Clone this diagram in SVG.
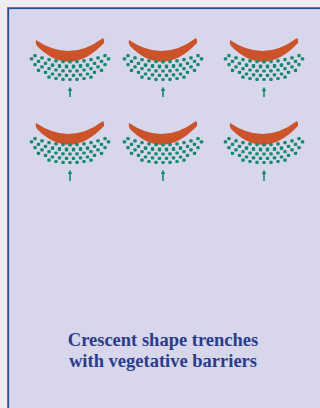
<svg xmlns="http://www.w3.org/2000/svg" xmlns:xlink="http://www.w3.org/1999/xlink" width="320" height="408" viewBox="0 0 320 408">
<style>
.crescent{fill:#cb5229}
.dot{fill:#15896b}
.arrow{stroke:#15896b;stroke-width:1.6;fill:none}
.label{font-family:"Liberation Serif","Times New Roman",serif;font-weight:bold;font-size:18.5px;fill:#2b3c8a;text-anchor:middle}
</style>
<defs>
<marker id="ah" viewBox="0 0 6 6" refX="3" refY="3" markerWidth="3" markerHeight="3" orient="auto">
<path d="M0,0 L6,3 L0,6 Z" fill="#15896b"/>
</marker>
<g id="dots">
<rect class="dot" x="-36.7" y="13.1" width="3.4" height="3.2" rx="1"/>
<rect class="dot" x="-29.7" y="15.3" width="3.4" height="3.2" rx="1"/>
<rect class="dot" x="-22.7" y="17" width="3.4" height="3.2" rx="1"/>
<rect class="dot" x="-15.7" y="18.2" width="3.4" height="3.2" rx="1"/>
<rect class="dot" x="-8.7" y="19" width="3.4" height="3.2" rx="1"/>
<rect class="dot" x="-1.7" y="19.2" width="3.4" height="3.2" rx="1"/>
<rect class="dot" x="5.3" y="19" width="3.4" height="3.2" rx="1"/>
<rect class="dot" x="12.3" y="18.2" width="3.4" height="3.2" rx="1"/>
<rect class="dot" x="19.3" y="17" width="3.4" height="3.2" rx="1"/>
<rect class="dot" x="26.3" y="15.3" width="3.4" height="3.2" rx="1"/>
<rect class="dot" x="33.3" y="13.1" width="3.4" height="3.2" rx="1"/>

<rect class="dot" x="-40.2" y="16.3" width="3.4" height="3.2" rx="1"/>
<rect class="dot" x="-33.2" y="18.7" width="3.4" height="3.2" rx="1"/>
<rect class="dot" x="-26.2" y="20.7" width="3.4" height="3.2" rx="1"/>
<rect class="dot" x="-19.2" y="22.2" width="3.4" height="3.8" rx="1"/>
<rect class="dot" x="-12.2" y="23.1" width="3.4" height="3.8" rx="1"/>
<rect class="dot" x="-5.2" y="23.6" width="3.4" height="3.8" rx="1"/>
<rect class="dot" x="1.8" y="23.6" width="3.4" height="3.8" rx="1"/>
<rect class="dot" x="8.8" y="23.1" width="3.4" height="3.8" rx="1"/>
<rect class="dot" x="15.8" y="22.2" width="3.4" height="3.8" rx="1"/>
<rect class="dot" x="22.8" y="20.7" width="3.4" height="3.2" rx="1"/>
<rect class="dot" x="29.8" y="18.7" width="3.4" height="3.2" rx="1"/>
<rect class="dot" x="36.8" y="16.3" width="3.4" height="3.2" rx="1"/>

<rect class="dot" x="-36.7" y="22.1" width="3.4" height="3.2" rx="1"/>
<rect class="dot" x="-29.7" y="24.3" width="3.4" height="3.2" rx="1"/>
<rect class="dot" x="-22.7" y="26" width="3.4" height="3.2" rx="1"/>
<rect class="dot" x="-15.7" y="27.4" width="3.4" height="3.2" rx="1"/>
<rect class="dot" x="-8.7" y="28.2" width="3.4" height="3.2" rx="1"/>
<rect class="dot" x="-1.7" y="28.4" width="3.4" height="3.2" rx="1"/>
<rect class="dot" x="5.3" y="28.2" width="3.4" height="3.2" rx="1"/>
<rect class="dot" x="12.3" y="27.4" width="3.4" height="3.2" rx="1"/>
<rect class="dot" x="19.3" y="26" width="3.4" height="3.2" rx="1"/>
<rect class="dot" x="26.3" y="24.3" width="3.4" height="3.2" rx="1"/>
<rect class="dot" x="33.3" y="22.1" width="3.4" height="3.2" rx="1"/>

<rect class="dot" x="-33.2" y="27.7" width="3.4" height="3.2" rx="1"/>
<rect class="dot" x="-26.2" y="29.7" width="3.4" height="3.2" rx="1"/>
<rect class="dot" x="-19.2" y="31.4" width="3.4" height="3.2" rx="1"/>
<rect class="dot" x="-12.2" y="32.3" width="3.4" height="3.2" rx="1"/>
<rect class="dot" x="-5.2" y="32.8" width="3.4" height="3.2" rx="1"/>
<rect class="dot" x="1.8" y="32.8" width="3.4" height="3.2" rx="1"/>
<rect class="dot" x="8.8" y="32.3" width="3.4" height="3.2" rx="1"/>
<rect class="dot" x="15.8" y="31.4" width="3.4" height="3.2" rx="1"/>
<rect class="dot" x="22.8" y="29.7" width="3.4" height="3.2" rx="1"/>
<rect class="dot" x="29.8" y="27.7" width="3.4" height="3.2" rx="1"/>

<rect class="dot" x="-22.7" y="34.5" width="3.4" height="3.2" rx="1"/>
<rect class="dot" x="-15.7" y="35.9" width="3.4" height="3.2" rx="1"/>
<rect class="dot" x="-8.7" y="36.7" width="3.4" height="3.2" rx="1"/>
<rect class="dot" x="-1.7" y="36.9" width="3.4" height="3.2" rx="1"/>
<rect class="dot" x="5.3" y="36.7" width="3.4" height="3.2" rx="1"/>
<rect class="dot" x="12.3" y="35.9" width="3.4" height="3.2" rx="1"/>
<rect class="dot" x="19.3" y="34.5" width="3.4" height="3.2" rx="1"/>
</g>
<g id="unit">
<path class="crescent" d="M-34,-1 Q0,22 33,-3 Q35,-1 34,2 Q0,38 -33,5 Q-35,2 -34,-1 Z"/>
<use xlink:href="#dots" href="#dots"/>
</g>
</defs>

<rect x="0" y="0" width="320" height="408" fill="#ededf0"/>
<rect x="7.5" y="7.5" width="330" height="420" fill="#d7d6eb" stroke="#d2507a" stroke-width="1"/>
<rect x="8.5" y="8.5" width="330" height="420" fill="none" stroke="#25519b" stroke-width="1.2"/>

<g id="trench-1-1" transform="translate(70,41)"><use href="#unit" xlink:href="#unit"/></g>
<g id="trench-1-2" transform="translate(163,41)"><use href="#unit" xlink:href="#unit"/></g>
<g id="trench-1-3" transform="translate(264,41)"><use href="#unit" xlink:href="#unit"/></g>
<g id="trench-2-1" transform="translate(70,124)"><use href="#unit" xlink:href="#unit"/></g>
<g id="trench-2-2" transform="translate(163,124)"><use href="#unit" xlink:href="#unit"/></g>
<g id="trench-2-3" transform="translate(264,124)"><use href="#unit" xlink:href="#unit"/></g>

<g id="connectors">
<line class="arrow" x1="70" y1="97" x2="70" y2="89" marker-end="url(#ah)"/>
<line class="arrow" x1="163" y1="97" x2="163" y2="89" marker-end="url(#ah)"/>
<line class="arrow" x1="264" y1="97" x2="264" y2="89" marker-end="url(#ah)"/>
<line class="arrow" x1="70" y1="181" x2="70" y2="172" marker-end="url(#ah)"/>
<line class="arrow" x1="163" y1="181" x2="163" y2="172" marker-end="url(#ah)"/>
<line class="arrow" x1="264" y1="181" x2="264" y2="172" marker-end="url(#ah)"/>
</g>

<g id="caption">
<text class="label" x="163" y="346">Crescent shape trenches</text>
<text class="label" x="163" y="367">with vegetative barriers</text>
</g>
</svg>
